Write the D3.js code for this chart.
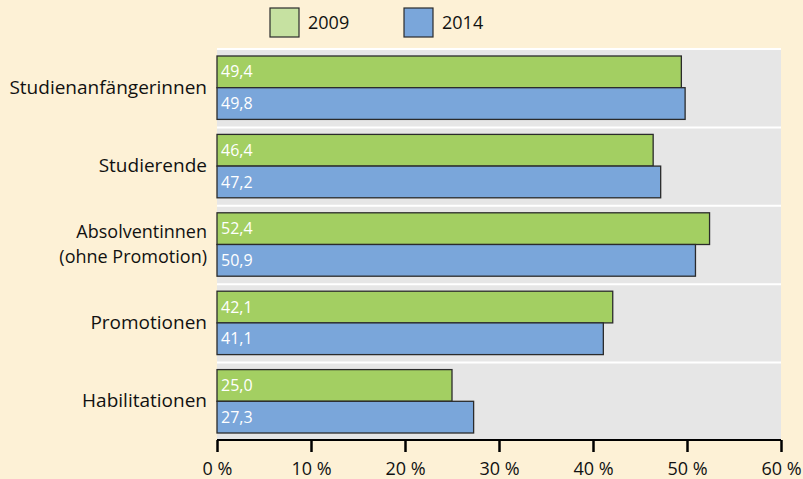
<!DOCTYPE html>
<html>
<head>
<meta charset="utf-8">
<script src="https://cdn.jsdelivr.net/npm/d3@7"></script>
<style>
  body { margin: 0; background: #fdf1d6; }
  svg { display: block; font-family: "Open Sans", "Noto Sans", sans-serif; }
</style>
</head>
<body>
<svg id="chart" width="803" height="479"></svg>
<script>
// Data
var categories = [["Studienanfängerinnen"], ["Studierende"], ["Absolventinnen", "(ohne Promotion)"], ["Promotionen"], ["Habilitationen"]];
var series = ["2009", "2014"];
var values2009 = [49.4, 46.4, 52.4, 42.1, 25.0];
var values2014 = [49.8, 47.2, 50.9, 41.1, 27.3];
var tickValues = [0, 10, 20, 30, 40, 50, 60];

var barColor = { "2009": "#a3cf62", "2014": "#7aa6da" };
var legendColor = { "2009": "#c6e1a1", "2014": "#7aa6da" };

var margin = { top: 48, right: 22, bottom: 39, left: 217 },
    width = 803 - margin.left - margin.right,
    height = 479 - margin.top - margin.bottom;

var svg = d3.select("#chart");

var g = svg.append("g")
    .attr("transform", "translate(" + margin.left + "," + margin.top + ")");

// Scales
var xScale = d3.scaleLinear().domain([0, 60]).range([0, width]);
var yScale = d3.scaleBand().domain(d3.range(categories.length)).range([0, height]);
var inner = d3.scaleBand().domain(series).range([8, yScale.bandwidth() - 7]);

// Plot background
g.append("rect")
    .attr("x", 0).attr("y", 0)
    .attr("width", width).attr("height", height)
    .attr("fill", "#e6e6e6");

// White band separators
g.selectAll(".sep")
    .data(d3.range(categories.length))
    .enter().append("line")
    .attr("x1", 0).attr("x2", width)
    .attr("y1", function (d) { return yScale(d) + 1; })
    .attr("y2", function (d) { return yScale(d) + 1; })
    .attr("stroke", "#fff").attr("stroke-width", 2);

// Bars
var rows = categories.map(function (c, i) {
    return { i: i, label: c, vals: [
        { s: "2009", v: values2009[i] },
        { s: "2014", v: values2014[i] }
    ] };
});

var groups = g.selectAll(".category")
    .data(rows)
    .enter().append("g")
    .attr("class", "category")
    .attr("transform", function (d) { return "translate(0," + yScale(d.i) + ")"; });

groups.selectAll("rect")
    .data(function (d) { return d.vals; })
    .enter().append("rect")
    .attr("x", 0)
    .attr("y", function (d) { return inner(d.s); })
    .attr("width", function (d) { return xScale(d.v); })
    .attr("height", inner.bandwidth())
    .attr("fill", function (d) { return barColor[d.s]; })
    .attr("stroke", "#2b2b2b")
    .attr("stroke-width", 1.3);

groups.selectAll(".val")
    .data(function (d) { return d.vals; })
    .enter().append("text")
    .attr("class", "val")
    .attr("x", 4)
    .attr("y", function (d) { return inner(d.s) + inner.bandwidth() / 2; })
    .attr("dy", "0.35em")
    .attr("fill", "#fff")
    .style("font-size", "16px")
    .text(function (d) { return d3.format(".1f")(d.v).replace(".", ","); });

// Category labels (one text per line)
groups.each(function (d) {
    var grp = d3.select(this);
    var n = d.label.length;
    var lh = n > 1 ? 25 : 0;
    d.label.forEach(function (line, k) {
        grp.append("text")
            .attr("x", -10)
            .attr("y", yScale.bandwidth() / 2 + (k - (n - 1) / 2) * lh)
            .attr("dy", "0.35em")
            .attr("text-anchor", "end")
            .style("font-size", n > 1 ? "18px" : "19px")
            .attr("fill", "#111")
            .text(line);
    });
});

// X axis
var xAxis = d3.axisBottom(xScale)
    .tickValues(tickValues)
    .tickSize(12)
    .tickPadding(10)
    .tickFormat(function (d) { return d + " %"; });

var ax = g.append("g")
    .attr("transform", "translate(0," + height + ")")
    .call(xAxis);
ax.select(".domain").attr("stroke", "#000").attr("stroke-width", 2).attr("d", "M0,0H" + width);
ax.selectAll(".tick line").attr("stroke", "#000").attr("stroke-width", 2.5);
ax.selectAll(".tick text")
    .attr("fill", "#111")
    .style("font-size", "18px")
    .style("font-family", "'Open Sans', 'Noto Sans', sans-serif");

// Legend
var legend = svg.selectAll(".legend")
    .data(series)
    .enter().append("g")
    .attr("class", "legend")
    .attr("transform", function (d, i) { return "translate(" + (270 + i * 134) + ",8)"; });

legend.append("rect")
    .attr("width", 29).attr("height", 29)
    .attr("fill", function (d) { return legendColor[d]; })
    .attr("stroke", "#2b2b2b").attr("stroke-width", 1.2);

legend.append("text")
    .attr("x", 38).attr("y", 15)
    .attr("dy", "0.35em")
    .style("font-size", "18px")
    .attr("fill", "#111")
    .text(function (d) { return d; });
</script>
</body>
</html>
